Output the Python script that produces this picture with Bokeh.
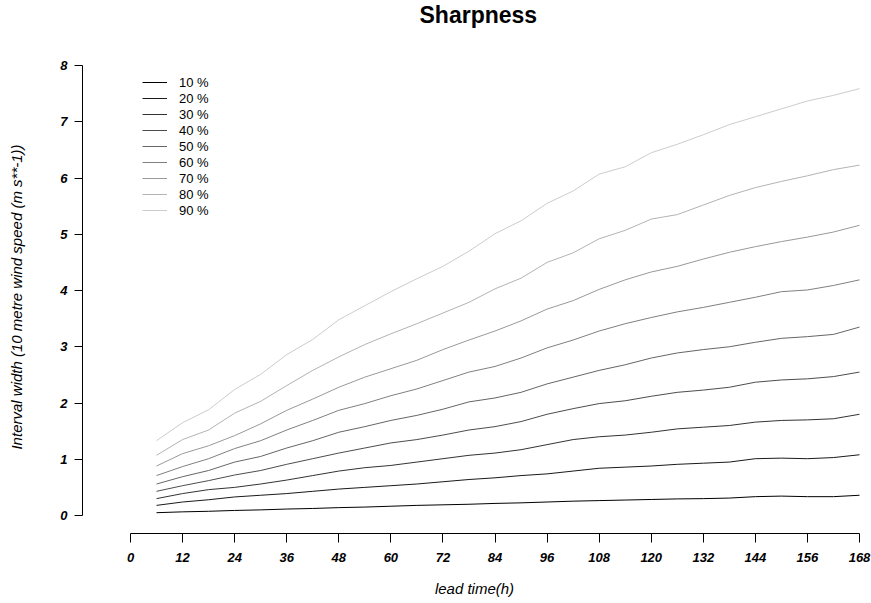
from bokeh.plotting import figure
from bokeh.models import Range1d, Legend, LegendItem, FixedTicker, Title
from bokeh.embed import file_html
from bokeh.resources import INLINE

lead_time = [6, 12, 18, 24, 30, 36, 42, 48, 54, 60, 66, 72, 78, 84, 90, 96,
             102, 108, 114, 120, 126, 132, 138, 144, 150, 156, 162, 168]

q10 = [0.05, 0.065, 0.075, 0.09, 0.10, 0.115, 0.125, 0.14, 0.15, 0.165, 0.18, 0.19, 0.20, 0.215,
       0.225, 0.24, 0.255, 0.265, 0.275, 0.285, 0.295, 0.30, 0.31, 0.335, 0.345, 0.335, 0.335, 0.36]
q20 = [0.18, 0.24, 0.28, 0.33, 0.36, 0.39, 0.43, 0.47, 0.50, 0.53, 0.56, 0.60, 0.64, 0.67,
       0.71, 0.74, 0.79, 0.84, 0.86, 0.88, 0.91, 0.93, 0.95, 1.01, 1.02, 1.01, 1.03, 1.08]
q30 = [0.30, 0.39, 0.46, 0.50, 0.56, 0.63, 0.71, 0.79, 0.85, 0.89, 0.95, 1.01, 1.07, 1.11,
       1.17, 1.26, 1.35, 1.40, 1.43, 1.48, 1.54, 1.57, 1.60, 1.66, 1.69, 1.70, 1.72, 1.80]
q40 = [0.43, 0.53, 0.62, 0.72, 0.80, 0.91, 1.01, 1.11, 1.20, 1.29, 1.35, 1.43, 1.52, 1.58,
       1.67, 1.80, 1.90, 1.99, 2.04, 2.12, 2.19, 2.23, 2.28, 2.37, 2.41, 2.43, 2.47, 2.55]
q50 = [0.56, 0.69, 0.80, 0.95, 1.05, 1.20, 1.33, 1.48, 1.58, 1.69, 1.78, 1.89, 2.02, 2.09,
       2.19, 2.34, 2.46, 2.58, 2.68, 2.80, 2.89, 2.95, 3.00, 3.08, 3.15, 3.18, 3.22, 3.35]
q60 = [0.71, 0.87, 1.01, 1.19, 1.33, 1.52, 1.69, 1.87, 1.99, 2.13, 2.25, 2.40, 2.55, 2.65,
       2.80, 2.98, 3.12, 3.28, 3.41, 3.52, 3.62, 3.70, 3.79, 3.88, 3.98, 4.01, 4.09, 4.19]
q70 = [0.88, 1.10, 1.24, 1.42, 1.63, 1.87, 2.07, 2.28, 2.46, 2.61, 2.76, 2.95, 3.12, 3.28,
       3.46, 3.67, 3.82, 4.02, 4.19, 4.33, 4.43, 4.56, 4.68, 4.78, 4.87, 4.95, 5.04, 5.16]
q80 = [1.07, 1.35, 1.52, 1.82, 2.03, 2.31, 2.58, 2.82, 3.04, 3.23, 3.41, 3.60, 3.79, 4.03,
       4.22, 4.50, 4.67, 4.92, 5.07, 5.27, 5.35, 5.52, 5.69, 5.83, 5.94, 6.04, 6.15, 6.23]
q90 = [1.33, 1.65, 1.88, 2.24, 2.51, 2.86, 3.13, 3.48, 3.73, 3.98, 4.21, 4.43, 4.70, 5.01,
       5.24, 5.55, 5.77, 6.07, 6.20, 6.45, 6.60, 6.77, 6.95, 7.09, 7.23, 7.37, 7.47, 7.59]

labels = ["10 %", "20 %", "30 %", "40 %", "50 %", "60 %", "70 %", "80 %", "90 %"]
series = [q10, q20, q30, q40, q50, q60, q70, q80, q90]
colors = ["#000000", "#1a1a1a", "#333333", "#4d4d4d", "#666666",
          "#808080", "#999999", "#b3b3b3", "#cccccc"]

x_ticks = list(range(0, 169, 12))
y_ticks = [0, 1, 2, 3, 4, 5, 6, 7, 8]

FONT = "Liberation Sans"

# frame: x 82..866, y 60..533
p = figure(width=871, height=603, output_backend="svg", toolbar_location=None,
           x_range=Range1d(-11.06, 169.61), y_range=Range1d(-0.32, 8.09),
           min_border_left=82, min_border_right=5, min_border_top=60, min_border_bottom=70)
p.outline_line_color = None
p.grid.visible = False
p.background_fill_color = "white"
p.border_fill_color = "white"

items = []
for lab, ys, col in zip(labels, series, colors):
    r = p.line(lead_time, ys, line_color=col, line_width=1)
    items.append(LegendItem(label=lab, renderers=[r]))

legend = Legend(items=items, location=(60, 315), border_line_color=None,
                background_fill_alpha=0, padding=0, margin=0, spacing=0,
                glyph_width=25, glyph_height=16, label_height=16, label_standoff=12,
                label_text_font=FONT, label_text_font_size="13px", label_text_color="black")
p.add_layout(legend, "center")

for ax, ticks, bounds in ((p.xaxis[0], x_ticks, (0, 168)), (p.yaxis[0], y_ticks, (0, 8))):
    ax.ticker = FixedTicker(ticks=ticks)
    ax.bounds = bounds
    ax.minor_tick_line_color = None
    ax.axis_line_color = "black"
    ax.major_tick_line_color = "black"
    ax.major_tick_in = 0
    ax.major_label_text_font = FONT
    ax.major_label_text_font_style = "bold italic"
    ax.major_label_text_font_size = "13px"
    ax.major_label_text_color = "black"
    ax.axis_label_text_font = FONT
    ax.axis_label_text_font_style = "italic"
    ax.axis_label_text_font_size = "15px"
    ax.axis_label_text_color = "black"

p.xaxis[0].axis_label = "lead time(h)"
p.xaxis[0].major_tick_out = 9
p.xaxis[0].major_label_standoff = 10
p.xaxis[0].axis_label_standoff = 15

p.yaxis[0].axis_label = "Interval width (10 metre wind speed (m s**-1))"
p.yaxis[0].major_tick_out = 8
p.yaxis[0].major_label_standoff = 7
p.yaxis[0].major_label_orientation = "horizontal"
p.yaxis[0].axis_label_standoff = 32

# spacer panel between the frame and the title, so the title sits near the top edge
p.add_layout(Title(text=" ", text_font_size="10px", standoff=18), "above")
p.title = Title(text="Sharpness", align="left", offset=337, vertical_align="top",
                text_font=FONT, text_font_style="bold", text_font_size="23px",
                text_color="black", standoff=0)

open("out.html", "w").write(file_html(p, INLINE))
